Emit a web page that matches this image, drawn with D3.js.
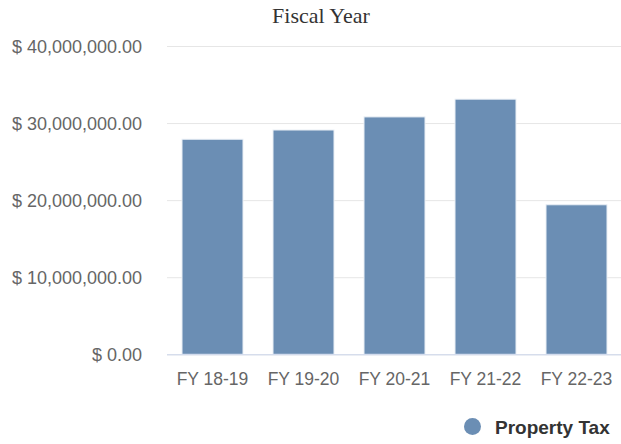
<!DOCTYPE html>
<html><head><meta charset="utf-8">
<script src="https://cdn.jsdelivr.net/npm/d3@7"></script>
<style>body{margin:0;background:#fff}svg{display:block}</style>
</head><body>
<svg id="c" width="621" height="444"></svg>
<script>
const categories = ["FY 18-19","FY 19-20","FY 20-21","FY 21-22","FY 22-23"];
const propertyTax = [27900000, 29100000, 30800000, 33100000, 19400000];
const yTicks = [0, 10000000, 20000000, 30000000, 40000000];
const seriesName = "Property Tax";
const titleText = "Fiscal Year";

(function(){
const svg = d3.select("#c");
const pL = 167, pR = 622, pT = 46, pB = 354.3;
const x = d3.scaleBand().domain(categories).range([pL, pR]).paddingInner(0.33).paddingOuter(0.165);
const y = d3.scaleLinear().domain([0, 40000000]).range([pB, pT]);
const fmt = v => "$ " + d3.format(",.2f")(v);

svg.append("text").attr("x", 321).attr("y", 23).attr("text-anchor","middle")
  .attr("font-family","Liberation Serif, Times New Roman, serif").attr("font-size",22).attr("fill","#333").text(titleText);

const gy = svg.append("g").attr("transform",`translate(${pL},0)`)
  .call(d3.axisLeft(y).tickValues(yTicks).tickFormat(fmt).tickSize(-(pR-pL)).tickPadding(25));
gy.select(".domain").remove();
gy.selectAll(".tick line").attr("stroke","#e6e6e6");
gy.selectAll(".tick text").attr("font-family","Liberation Sans, Arial, sans-serif").attr("font-size",18).attr("fill","#666").attr("dy","0.35em");

svg.append("g").selectAll("rect").data(propertyTax).join("rect")
  .attr("x",(d,i)=>x(categories[i])).attr("width",x.bandwidth())
  .attr("y",d=>y(d)).attr("height",d=>y(0)-y(d))
  .attr("fill","#6b8eb4").attr("stroke","#e8eef5").attr("stroke-width",1);

svg.append("line").attr("x1",pL).attr("x2",pR).attr("y1",y(0)+0.5).attr("y2",y(0)+0.5).attr("stroke","#ccd6eb");

const gx = svg.append("g").attr("transform",`translate(0,${pB})`)
  .call(d3.axisBottom(x).tickSize(0).tickPadding(0));
gx.select(".domain").remove();
gx.selectAll(".tick text").attr("font-family","Liberation Sans, Arial, sans-serif").attr("font-size",17.5).attr("fill","#666").attr("y",31).attr("dy",0);

const lg = svg.append("g");
lg.append("circle").attr("cx",472.5).attr("cy",426.5).attr("r",8.5).attr("fill","#6b8eb4");
lg.append("text").attr("x",495).attr("y",434).attr("font-family","Liberation Sans, Arial, sans-serif")
  .attr("font-weight","bold").attr("font-size",19).attr("fill","#333").text(seriesName);
})();
</script>
</body></html>
